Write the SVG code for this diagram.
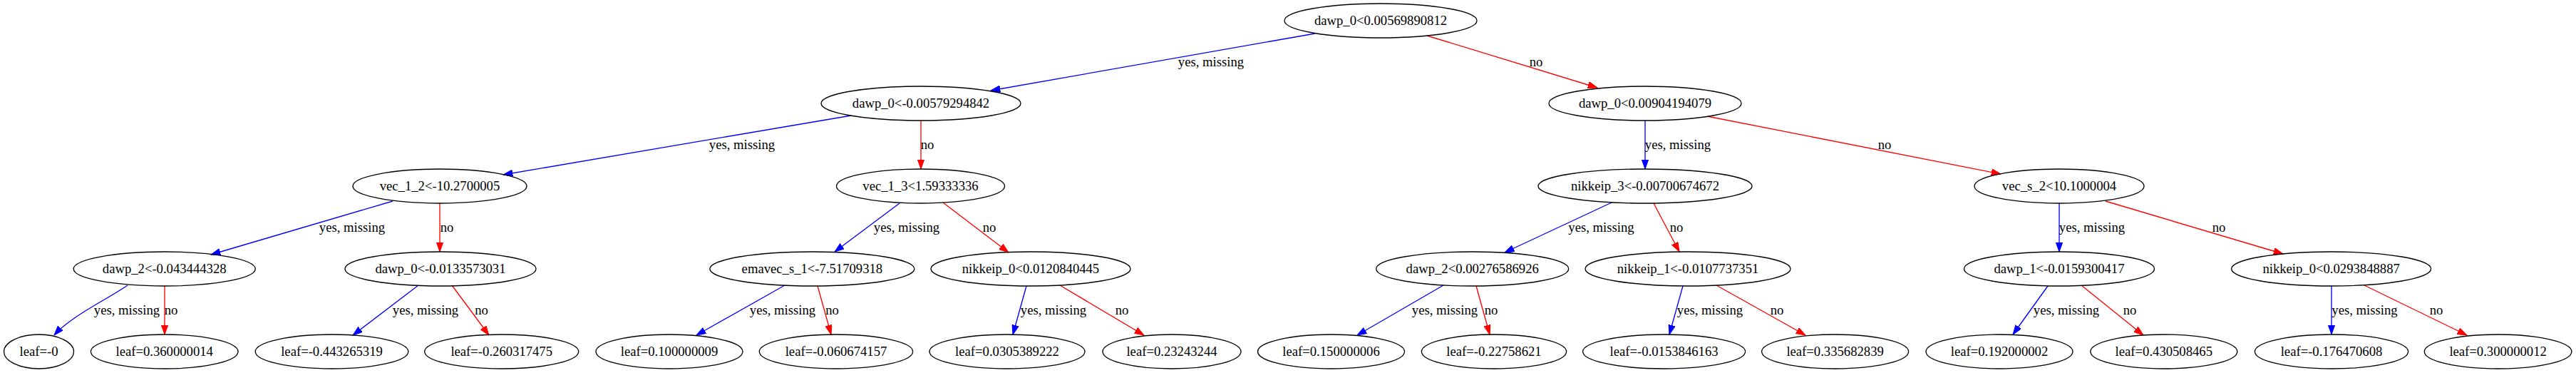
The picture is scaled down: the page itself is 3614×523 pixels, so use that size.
<svg xmlns="http://www.w3.org/2000/svg" width="3614" height="523" viewBox="0 0 3614 523">
<style>
text{font-family:"Liberation Serif","Times New Roman",serif;font-size:18.67px;text-anchor:middle;fill:#000}
ellipse{fill:none;stroke:#000;stroke-width:1.33}
.y{stroke:#0000ff;stroke-width:1.33;fill:none;marker-end:url(#ab)}
.n{stroke:#ff0000;stroke-width:1.33;fill:none;marker-end:url(#ar)}
</style>
<defs>
<marker id="ab" markerUnits="userSpaceOnUse" markerWidth="14" markerHeight="10" refX="13.3" refY="4.7" orient="auto"><path d="M0,0 L13.3,4.7 L0,9.4 z" fill="#0000ff" stroke="#0000ff" stroke-width="1"/></marker>
<marker id="ar" markerUnits="userSpaceOnUse" markerWidth="14" markerHeight="10" refX="13.3" refY="4.7" orient="auto"><path d="M0,0 L13.3,4.7 L0,9.4 z" fill="#ff0000" stroke="#ff0000" stroke-width="1"/></marker>
</defs>
<rect width="3614" height="523" fill="#fff"/>
<g id="edges">
<path class="y" d="M1845,47 L1390,127"/><text x="1699" y="93">yes, missing</text>
<path class="n" d="M2002,50 L2241,123"/><text x="2155" y="93">no</text>
<path class="y" d="M1194,162 L706,245"/><text x="1041" y="209">yes, missing</text>
<path class="n" d="M1292,169 L1292,237"/><text x="1301" y="209">no</text>
<path class="y" d="M2308,169 L2308,237"/><text x="2354" y="209">yes, missing</text>
<path class="n" d="M2395,163 L2807,244"/><text x="2644" y="209">no</text>
<path class="y" d="M551,282 L296,357"/><text x="494" y="325">yes, missing</text>
<path class="n" d="M617,285 L617,353"/><text x="627" y="325">no</text>
<path class="y" d="M1262,285 L1171,353"/><text x="1272" y="325">yes, missing</text>
<path class="n" d="M1323,284 L1415,354"/><text x="1388" y="325">no</text>
<path class="y" d="M2261,284 L2111,354"/><text x="2246.5" y="325">yes, missing</text>
<path class="n" d="M2320,285 L2356,353"/><text x="2352" y="325">no</text>
<path class="y" d="M2889,285 L2889,353"/><text x="2935" y="325">yes, missing</text>
<path class="n" d="M2954,282 L3203,356"/><text x="3113" y="325">no</text>
<path class="y" d="M179,400 C150,420 100,443 76,470"/><text x="178" y="441">yes, missing</text>
<path class="n" d="M231,401 L231,469"/><text x="240" y="441">no</text>
<path class="y" d="M587,400 L495,470"/><text x="597" y="441">yes, missing</text>
<path class="n" d="M634,400 L686,470"/><text x="675.5" y="441">no</text>
<path class="y" d="M1101,400 L977,470"/><text x="1098" y="441">yes, missing</text>
<path class="n" d="M1147,401 L1166,469"/><text x="1167.5" y="441">no</text>
<path class="y" d="M1440,401 L1421,469"/><text x="1478" y="441">yes, missing</text>
<path class="n" d="M1487,400 L1605,470"/><text x="1574" y="441">no</text>
<path class="y" d="M2025,400 L1904,470"/><text x="2027" y="441">yes, missing</text>
<path class="n" d="M2071,401 L2090,469"/><text x="2092" y="441">no</text>
<path class="y" d="M2361,401 L2342,469"/><text x="2399" y="441">yes, missing</text>
<path class="n" d="M2408,400 L2533,470"/><text x="2493" y="441">no</text>
<path class="y" d="M2873,401 L2824,469"/><text x="2899" y="441">yes, missing</text>
<path class="n" d="M2920,400 L3007,470"/><text x="2988" y="441">no</text>
<path class="y" d="M3271,401 L3271,469"/><text x="3317.5" y="441">yes, missing</text>
<path class="n" d="M3317,400 L3461,470"/><text x="3418" y="441">no</text>
</g>
<g id="n0"><ellipse cx="1937" cy="29" rx="135" ry="24"/><text x="1937" y="35">dawp_0&lt;0.00569890812</text></g>
<g id="n1"><ellipse cx="1292" cy="145" rx="140" ry="24"/><text x="1292" y="151">dawp_0&lt;-0.00579294842</text></g>
<g id="n2"><ellipse cx="2308" cy="145" rx="135" ry="24"/><text x="2308" y="151">dawp_0&lt;0.00904194079</text></g>
<g id="n3"><ellipse cx="617" cy="261" rx="122" ry="24"/><text x="617" y="267">vec_1_2&lt;-10.2700005</text></g>
<g id="n4"><ellipse cx="1291.5" cy="261" rx="118" ry="24"/><text x="1291.5" y="267">vec_1_3&lt;1.59333336</text></g>
<g id="n5"><ellipse cx="2308" cy="261" rx="150" ry="24"/><text x="2308" y="267">nikkeip_3&lt;-0.00700674672</text></g>
<g id="n6"><ellipse cx="2889" cy="261" rx="119" ry="24"/><text x="2889" y="267">vec_s_2&lt;10.1000004</text></g>
<g id="n7"><ellipse cx="230.7" cy="377" rx="127.5" ry="24"/><text x="230.7" y="383">dawp_2&lt;-0.043444328</text></g>
<g id="n8"><ellipse cx="618" cy="377" rx="134" ry="24"/><text x="618" y="383">dawp_0&lt;-0.0133573031</text></g>
<g id="n9"><ellipse cx="1139.4" cy="377" rx="143.5" ry="24"/><text x="1139.4" y="383">emavec_s_1&lt;-7.51709318</text></g>
<g id="n10"><ellipse cx="1446" cy="377" rx="140" ry="24"/><text x="1446" y="383">nikkeip_0&lt;0.0120840445</text></g>
<g id="n11"><ellipse cx="2065.7" cy="377" rx="135" ry="24"/><text x="2065.7" y="383">dawp_2&lt;0.00276586926</text></g>
<g id="n12"><ellipse cx="2368" cy="377" rx="144" ry="24"/><text x="2368" y="383">nikkeip_1&lt;-0.0107737351</text></g>
<g id="n13"><ellipse cx="2889" cy="377" rx="133.5" ry="24"/><text x="2889" y="383">dawp_1&lt;-0.0159300417</text></g>
<g id="n14"><ellipse cx="3270.6" cy="377" rx="140" ry="24"/><text x="3270.6" y="383">nikkeip_0&lt;0.0293848887</text></g>
<g id="l1"><ellipse cx="54.5" cy="493" rx="49" ry="24"/><text x="54.5" y="499">leaf=-0</text></g>
<g id="l2"><ellipse cx="230.7" cy="493" rx="103.3" ry="24"/><text x="230.7" y="499">leaf=0.360000014</text></g>
<g id="l3"><ellipse cx="465.5" cy="493" rx="107.3" ry="24"/><text x="465.5" y="499">leaf=-0.443265319</text></g>
<g id="l4"><ellipse cx="703.7" cy="493" rx="108" ry="24"/><text x="703.7" y="499">leaf=-0.260317475</text></g>
<g id="l5"><ellipse cx="939" cy="493" rx="103" ry="24"/><text x="939" y="499">leaf=0.100000009</text></g>
<g id="l6"><ellipse cx="1173" cy="493" rx="107.7" ry="24"/><text x="1173" y="499">leaf=-0.060674157</text></g>
<g id="l7"><ellipse cx="1413" cy="493" rx="109" ry="24"/><text x="1413" y="499">leaf=0.0305389222</text></g>
<g id="l8"><ellipse cx="1644" cy="493" rx="97" ry="24"/><text x="1644" y="499">leaf=0.23243244</text></g>
<g id="l9"><ellipse cx="1867.5" cy="493" rx="103" ry="24"/><text x="1867.5" y="499">leaf=0.150000006</text></g>
<g id="l10"><ellipse cx="2096" cy="493" rx="101.6" ry="24"/><text x="2096" y="499">leaf=-0.22758621</text></g>
<g id="l11"><ellipse cx="2334.6" cy="493" rx="114" ry="24"/><text x="2334.6" y="499">leaf=-0.0153846163</text></g>
<g id="l12"><ellipse cx="2574.6" cy="493" rx="103" ry="24"/><text x="2574.6" y="499">leaf=0.335682839</text></g>
<g id="l13"><ellipse cx="2805" cy="493" rx="103" ry="24"/><text x="2805" y="499">leaf=0.192000002</text></g>
<g id="l14"><ellipse cx="3035.8" cy="493" rx="103" ry="24"/><text x="3035.8" y="499">leaf=0.430508465</text></g>
<g id="l15"><ellipse cx="3271" cy="493" rx="107.6" ry="24"/><text x="3271" y="499">leaf=-0.176470608</text></g>
<g id="l16"><ellipse cx="3504.6" cy="493" rx="103.3" ry="24"/><text x="3504.6" y="499">leaf=0.300000012</text></g>
</svg>
